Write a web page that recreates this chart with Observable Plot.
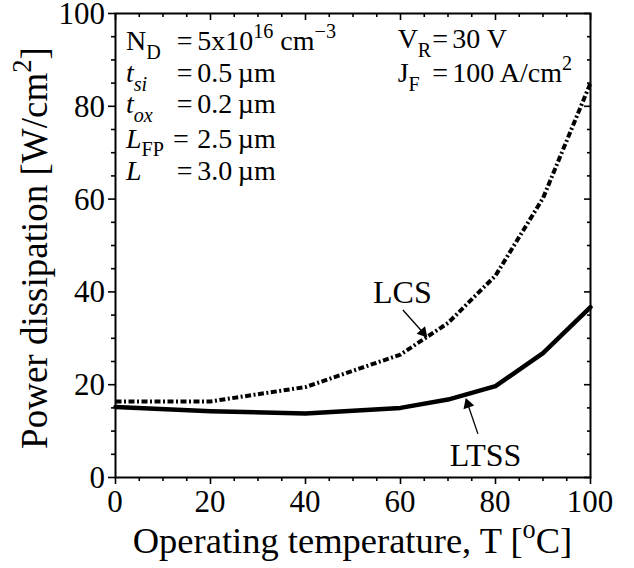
<!DOCTYPE html>
<html>
<head>
<meta charset="utf-8">
<script src="https://cdn.jsdelivr.net/npm/d3@7"></script>
<script src="https://cdn.jsdelivr.net/npm/@observablehq/plot@0.6"></script>
<style>
  html, body { margin: 0; padding: 0; background: white; }
</style>
</head>
<body>
<div id="chart"></div>
<script>
// ---- data ----
const temps = [0, 20, 40, 60, 70, 80, 90, 100];
const ltss  = [15.2, 14.3, 13.8, 15.0, 16.8, 19.7, 26.8, 36.7];
const lcs   = [16.4, 16.4, 19.5, 26.5, 33.3, 43.5, 60.2, 85.0];

const xMajor = [0, 20, 40, 60, 80, 100];
const xMinor = [5, 10, 15, 25, 30, 35, 45, 50, 55, 65, 70, 75, 85, 90, 95];
const yMajor = [0, 20, 40, 60, 80, 100];
const yMinor = [5, 10, 15, 25, 30, 35, 45, 50, 55, 65, 70, 75, 85, 90, 95];
const xTickLabels = ["0", "20", "40", "60", "80", "100"];
const yTickLabels = ["0", "20", "40", "60", "80", "100"];

const xLabel = "Operating temperature, T [";
const yLabel = "Power dissipation [W/cm";

// curve annotations (label position, arrow tail -> head), data units
const curveLabels = ["LCS", "LTSS"];
const labelX = [60.5, 78.0];
const labelY = [37.5, 2.4];
const arrowX1 = [60.5, 76.3];
const arrowY1 = [36.1, 9.4];
const arrowX2 = [65.3, 73.9];
const arrowY2 = [30.6, 16.6];

// parameter block (left)
const paramNames = [
  [["N", ""], ["D", "sub"]],
  [["t", "i"], ["si", "isub"]],
  [["t", "i"], ["ox", "isub"]],
  [["L", "i"], ["FP", "sub"]],
  [["L", "i"]]
];
const paramValues = [
  [["5x10", ""], ["16", "sup"], [" cm", ""], ["\u22123", "sup"]],
  [["0.5\u2009\u00b5m", ""]],
  [["0.2\u2009\u00b5m", ""]],
  [["2.5\u2009\u00b5m", ""]],
  [["3.0\u2009\u00b5m", ""]]
];
const paramY = [92.0, 85.1, 78.4, 70.9, 64.0];
const paramEqX = [13.0, 13.0, 13.0, 12.2, 13.0];

// condition block (right)
const condNames = [
  [["V", ""], ["R", "sub"]],
  [["J", ""], ["F", "sub"]]
];
const condValues = [
  [["30 V", ""]],
  [["100 A/cm", ""], ["2", "sup"]]
];
const condY = [92.4, 85.1];

// ---- build tables ----
const W = 634, H = 568, mL = 115, mR = 44, mT = 13, mB = 91;
const kx = (W - mL - mR) / 100, ky = (H - mT - mB) / 100; // px per data unit
const ltssData = temps.map((t, i) => ({t, p: ltss[i]}));
const lcsData = temps.map((t, i) => ({t, p: lcs[i]}));
const annos = curveLabels.map((s, i) => {
  const px = (arrowX2[i] - arrowX1[i]) * kx, py = -(arrowY2[i] - arrowY1[i]) * ky;
  const len = Math.hypot(px, py), ux = px / len, uy = py / len;
  const back = 4; // centroid of head behind the tip, px
  return {s, x: labelX[i], y: labelY[i],
    x1: arrowX1[i], y1: arrowY1[i], x2: arrowX2[i], y2: arrowY2[i],
    hx: arrowX2[i] - back * ux / kx, hy: arrowY2[i] + back * uy / ky,
    lx: arrowX2[i] - 5 * ux / kx, ly: arrowY2[i] + 5 * uy / ky,
    rot: Math.atan2(ux, -uy) * 180 / Math.PI};
});

const font = "Liberation Serif, Times New Roman, serif";

const plot = Plot.plot({
  width: W,
  height: H,
  marginLeft: mL,
  marginRight: mR,
  marginTop: mT,
  marginBottom: mB,
  style: {background: "white", color: "black", overflow: "visible"},
  x: {domain: [0, 100]},
  y: {domain: [0, 100]},
  marks: [
    Plot.axisX({ticks: xMajor, tickSize: 7, strokeWidth: 1.6, tickFormat: () => "", label: null}),
    Plot.axisX({ticks: xMinor, tickSize: 4, strokeWidth: 1.6, tickFormat: () => "", label: null}),
    Plot.axisY({ticks: yMajor, tickSize: 7, strokeWidth: 1.6, tickFormat: () => "", label: null}),
    Plot.axisY({ticks: yMinor, tickSize: 4, strokeWidth: 1.6, tickFormat: () => "", label: null}),
    // mirrored inward ticks on top and right
    Plot.tickX(xMajor, {x: d => d, insetBottom: 457, strokeWidth: 1.6}),
    Plot.tickX(xMinor, {x: d => d, insetBottom: 460, strokeWidth: 1.6}),
    Plot.tickY(yMajor, {y: d => d, insetLeft: 469, strokeWidth: 1.6}),
    Plot.tickY(yMinor, {y: d => d, insetLeft: 472, strokeWidth: 1.6}),
    Plot.line(lcsData, {x: "t", y: "p", stroke: "black", strokeWidth: 4, strokeDasharray: "6,2.5,2,2.5", strokeLinecap: "butt"}),
    Plot.line(ltssData, {x: "t", y: "p", stroke: "black", strokeWidth: 4.5}),
    Plot.link(annos, {x1: "x1", y1: "y1", x2: "lx", y2: "ly", stroke: "black", strokeWidth: 1.3}),
    Plot.dot(annos, {x: "hx", y: "hy", symbol: "triangle", rotate: "rot", r: 4.2, fill: "black", stroke: "none"}),
    Plot.frame({stroke: "black", strokeWidth: 2})
  ]
});

document.getElementById("chart").appendChild(plot);

const sx = plot.scale("x");
const sy = plot.scale("y");
const svg = d3.select(plot);

function rich(x, y, segs, fs, anchor = "start") {
  const t = svg.append("text")
    .attr("x", x).attr("y", y)
    .attr("font-size", fs)
    .attr("font-family", font)
    .attr("text-anchor", anchor)
    .attr("fill", "black");
  let cur = 0;
  for (const [s, st] of segs) {
    let shift = 0, size = fs, italic = false;
    if (st === "sub" || st === "isub") { shift = 0.30 * fs; size = 0.72 * fs; }
    if (st === "sup") { shift = -0.42 * fs; size = 0.72 * fs; }
    if (st === "i" || st === "isub") italic = true;
    const ts = t.append("tspan").attr("dy", shift - cur).attr("font-size", size).text(s);
    if (italic) ts.attr("font-style", "italic");
    cur = shift;
  }
  return t;
}

// tick labels
const fsT = 31;
xMajor.forEach((v, i) => rich(sx.apply(v), sy.apply(0) + 35, [[xTickLabels[i], ""]], fsT, "middle"));
yMajor.forEach((v, i) => rich(sx.apply(0) - 10, sy.apply(v) + 11, [[yTickLabels[i], ""]], fsT, "end"));

// curve labels
annos.forEach(a => rich(sx.apply(a.x), sy.apply(a.y), [[a.s, ""]], 32, "middle"));

// parameter blocks
const fsP = 28;
paramNames.forEach((nm, i) => {
  const y = sy.apply(paramY[i]);
  rich(sx.apply(2.3), y, nm, fsP);
  rich(sx.apply(paramEqX[i]), y, [["=", ""]], fsP);
  rich(sx.apply(17.3), y, paramValues[i], fsP);
});
condNames.forEach((nm, i) => {
  const y = sy.apply(condY[i]);
  rich(sx.apply(59.5), y, nm, fsP);
  rich(sx.apply(66.8), y, [["=", ""]], fsP);
  rich(sx.apply(71.0), y, condValues[i], fsP);
});

// axis titles
rich((sx.apply(0) + sx.apply(100)) / 2, 553, [[xLabel, ""], ["o", "sup"], ["C]", ""]], 36.5, "middle");
rich(0, 0, [[yLabel, ""], ["2", "sup"], ["]", ""]], 37, "middle")
  .attr("transform", `translate(47,${(sy.apply(0) + sy.apply(100)) / 2 + 3}) rotate(-90)`);
</script>
</body>
</html>
